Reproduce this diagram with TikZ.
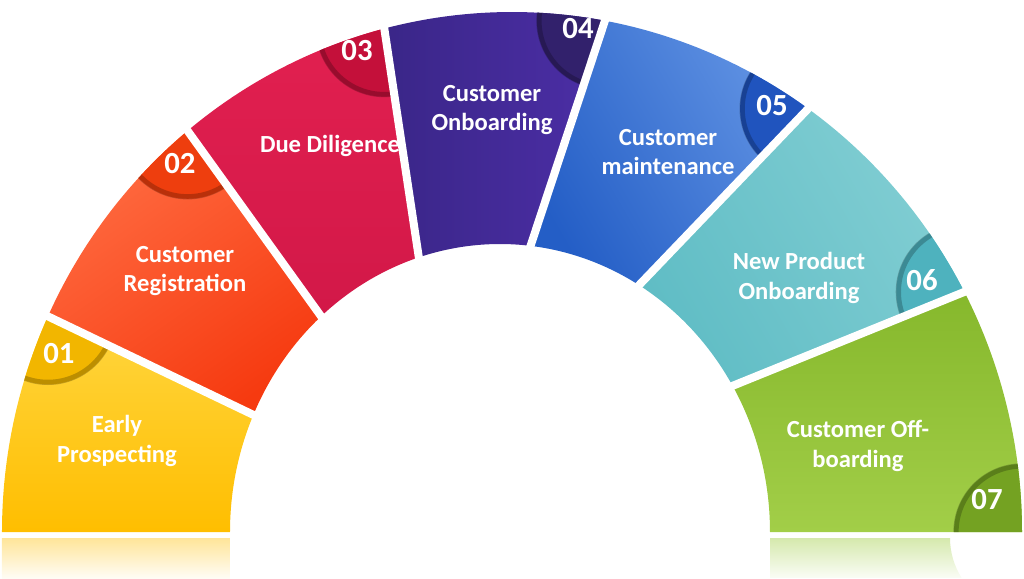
\documentclass[tikz,border=0pt]{standalone}
\usepackage{fontspec}
\setmainfont{Carlito}
\usetikzlibrary{positioning}
\definecolor{yelA}{RGB}{255,214,64}
\definecolor{yelB}{RGB}{255,190,0}
\definecolor{yelC}{RGB}{242,182,0}
\definecolor{orgA}{RGB}{255,108,66}
\definecolor{orgB}{RGB}{246,58,16}
\definecolor{orgC}{RGB}{238,62,14}
\definecolor{crmA}{RGB}{226,32,80}
\definecolor{crmB}{RGB}{210,24,72}
\definecolor{crmC}{RGB}{196,16,58}
\definecolor{purA}{RGB}{76,46,166}
\definecolor{purB}{RGB}{58,38,136}
\definecolor{purC}{RGB}{50,33,108}
\definecolor{bluA}{RGB}{98,148,228}
\definecolor{bluB}{RGB}{36,94,198}
\definecolor{bluC}{RGB}{32,84,190}
\definecolor{tealA}{RGB}{130,206,211}
\definecolor{tealB}{RGB}{96,189,197}
\definecolor{tealC}{RGB}{78,178,190}
\definecolor{grnA}{RGB}{162,206,72}
\definecolor{grnB}{RGB}{134,184,44}
\definecolor{grnC}{RGB}{116,162,34}
\tikzset{
  lbl/.style={text=white, align=center, font=\fontsize{14}{17}\selectfont\bfseries},
  num/.style={text=white, font=\fontsize{17.5}{18}\selectfont\bfseries},
  gap/.style={draw=white, line width=0.16cm, shorten <=-4pt, shorten >=-4pt},
  badgeedge/.style={draw=black, opacity=0.22, line width=3pt}
}
% outer from/to, inner from/to, top colour, bottom colour, shading angle, badge colour
\newcommand{\fanseg}[8]{%
  \shade[top color=#5, bottom color=#6, shading angle=#7]
    (#1:510 and 520) arc[start angle=#1, end angle=#2, x radius=510, y radius=520]
    -- ([shift={(-12,0)}]#4:270 and 288) arc[start angle=#4, end angle=#3, x radius=270, y radius=288] -- cycle;
  \begin{scope}
    \clip (#1:510 and 520) arc[start angle=#1, end angle=#2, x radius=510, y radius=520]
      -- ([shift={(-12,0)}]#4:270 and 288) arc[start angle=#4, end angle=#3, x radius=270, y radius=288] -- cycle;
    \fill[#8] (#2:510 and 520) circle[radius=68];
    \draw[badgeedge] (#2:510 and 520) circle[radius=66];
  \end{scope}}

\begin{document}
\begin{tikzpicture}[x=0.02cm, y=0.02cm]
  \useasboundingbox (-512,-46) rectangle (512,532);
  \fanseg{180}{155.5}{180}{156}{yelA}{yelB}{0}{yelC}
  \fanseg{155.5}{129.5}{156}{131.5}{orgA}{orgB}{35}{orgC}
  \fanseg{129.5}{104.5}{131.5}{107.5}{crmA}{crmB}{0}{crmC}
  \fanseg{104.5}{79.5}{107.5}{83.5}{purA}{purB}{-90}{purC}
  \fanseg{79.5}{54.5}{83.5}{59}{bluA}{bluB}{-60}{bluC}
  \fanseg{54.5}{27.5}{59}{30.5}{tealA}{tealB}{-60}{tealC}
  \fanseg{27.5}{0}{30.5}{0}{grnB}{grnA}{0}{grnC}
  \foreach \o/\i in {155.5/156, 129.5/131.5, 104.5/107.5, 79.5/83.5, 54.5/59, 27.5/30.5}
    \draw[gap] ([shift={(-12,0)}]\i:270 and 288) -- (\o:510 and 520);
  % reflections
  \shade[top color=yelB!40, bottom color=yelB!4] (-510,-6) rectangle (-282,-46);
  \shade[top color=grnA!45, bottom color=grnA!5] (258,-6) -- (438,-6)
    arc[start angle=180, end angle=212.7, radius=74] -- (258,-46) -- cycle;
  \node[lbl] (early) at (-395,91) {Early\\Prospecting};
  \node[lbl] (regist) at (-327,261) {Customer\\Registration};
  \node[lbl] (dued) at (-182,386) {Due Diligence};
  \node[lbl] (onboard) at (-20,422) {Customer\\Onboarding};
  \node[lbl] (maint) at (156,380) {Customer\\maintenance};
  \node[lbl] (newprod) at (287,254) {New Product\\Onboarding};
  \node[lbl] (offb) at (346,86) {Customer Off-\\boarding};
  \foreach \n/\x/\y in {01/-453/178, 02/-332/368, 03/-155/481, 04/66/503, 05/260/426, 06/410/252, 07/475/32}
    \node[num] (n\n) at (\x,\y) {\n};
\end{tikzpicture}
\end{document}
